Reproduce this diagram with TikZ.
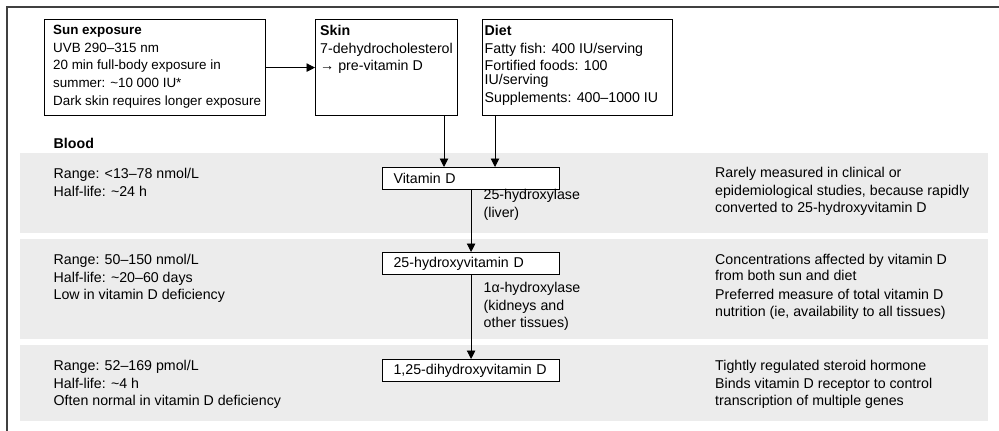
\documentclass[tikz,border=0pt]{standalone}
\usepackage{fontspec}
\setmainfont{Liberation Sans}
\usetikzlibrary{arrows.meta,positioning}

\begin{document}
\begin{tikzpicture}[x=1pt, y=-1pt,
  font=\fontsize{14.2}{17.6}\selectfont,
  srcbox/.style={draw, line width=1.2pt, inner sep=0pt, anchor=north west},
  txt/.style={anchor=north west, align=left, inner sep=0pt},
  metab/.style={draw, line width=1.2pt, fill=white, minimum height=22pt,
    text width=155pt, inner xsep=11pt, inner ysep=0pt, align=left, anchor=north west},
  flow/.style={line width=0.95pt, -{Triangle[length=8.5pt,width=8.5pt]}}]
  \useasboundingbox (0,0) rectangle (999,431);
  \draw[line width=1.5pt, black!75] (7,431) -- (7,7) -- (999,7);
  % blood bands
  \foreach \ya/\yb in {153/233, 239/339, 345/421}
    \fill[gray!15] (20,\ya) rectangle (988,\yb);

  % sources
  \node[srcbox, minimum width=221pt, minimum height=96pt] (sun) at (44,19) {};
  \node[srcbox, minimum width=142pt, minimum height=96pt] (skin) at (315,19) {};
  \node[srcbox, minimum width=190pt, minimum height=96pt] (diet) at (482,19) {};
  \node[txt, font=\fontsize{13.4}{17.7}\selectfont] (sunTxt)
    at ([xshift=9pt, yshift=-6pt]sun.north west)
    {\textbf{Sun exposure}\\UVB 290–315 nm\\20 min full-body exposure in\\
     summer: \textasciitilde10 000 IU*\\Dark skin requires longer exposure};
  \node[txt] (skinTxt) at ([xshift=5pt, yshift=-6pt]skin.north west)
    {\textbf{Skin}\\7-dehydrocholesterol\\→ pre-vitamin D};
  \node[txt] (dietTxt) at ([xshift=2.5pt, yshift=-6pt]diet.north west)
    {\textbf{Diet}\\Fatty fish: 400 IU/serving\\Fortified foods: 100\\[-3.4pt]
     IU/serving\\Supplements: 400–1000 IU};

  \node[txt] (blood) at (53.5,138) {\textbf{Blood}};

  % metabolites
  \node[metab] (vitD) at (382,167) {Vitamin D};
  \node[metab] (hydD) at (382,252) {25-hydroxyvitamin D};
  \node[metab] (dihydD) at (382,359) {1,25-dihydroxyvitamin D};
  \node[txt] (enzLiver) at (483.5,189.5) {25-hydroxylase\\(liver)};
  \node[txt] (enzKidney) at (483.5,282) {1α-hydroxylase\\(kidneys and\\other tissues)};

  % band notes
  \node[txt] (vitDL) at (53.5,168) {Range: <13–78 nmol/L\\Half-life: \textasciitilde24 h};
  \node[txt] (vitDR) at (715,167)
    {Rarely measured in clinical or\\epidemiological studies, because rapidly\\
     converted to 25-hydroxyvitamin D};
  \node[txt] (hydDL) at (53.5,254)
    {Range: 50–150 nmol/L\\Half-life: \textasciitilde20–60 days\\Low in vitamin D deficiency};
  \node[txt] (hydDR) at (715,254)
    {Concentrations affected by vitamin D\\[-1.5pt]from both sun and diet\\[1.5pt]
     Preferred measure of total vitamin D\\[-0.5pt]nutrition (ie, availability to all tissues)};
  \node[txt] (dihydDL) at (53.5,360)
    {Range: 52–169 pmol/L\\Half-life: \textasciitilde4 h\\Often normal in vitamin D deficiency};
  \node[txt] (dihydDR) at (715,360)
    {Tightly regulated steroid hormone\\Binds vitamin D receptor to control\\
     transcription of multiple genes};

  % arrows
  \draw[flow] (sun) -- (skin);
  \draw[flow] (444,0 |- skin.south) -- (444,0 |- vitD.north);
  \draw[flow] (495,0 |- diet.south) -- (495,0 |- vitD.north);
  \draw[flow] (vitD) -- (hydD);
  \draw[flow] (hydD) -- (dihydD);
\end{tikzpicture}
\end{document}
